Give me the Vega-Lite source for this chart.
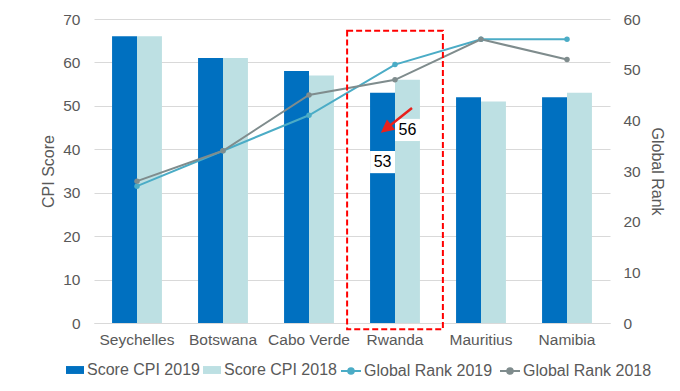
{
  "$schema": "https://vega.github.io/schema/vega-lite/v6.json",
  "width": 516,
  "height": 304,
  "autosize": {"type": "none"},
  "padding": {"left": 94, "top": 19, "right": 70, "bottom": 68},
  "config": {
    "view": {"stroke": null},
    "font": "Liberation Sans"
  },
  "datasets": {
    "bars": [
      {"country": "Seychelles", "series": "Score CPI 2019", "score": 66},
      {"country": "Seychelles", "series": "Score CPI 2018", "score": 66},
      {"country": "Botswana", "series": "Score CPI 2019", "score": 61},
      {"country": "Botswana", "series": "Score CPI 2018", "score": 61},
      {"country": "Cabo Verde", "series": "Score CPI 2019", "score": 58},
      {"country": "Cabo Verde", "series": "Score CPI 2018", "score": 57},
      {"country": "Rwanda", "series": "Score CPI 2019", "score": 53},
      {"country": "Rwanda", "series": "Score CPI 2018", "score": 56},
      {"country": "Mauritius", "series": "Score CPI 2019", "score": 52},
      {"country": "Mauritius", "series": "Score CPI 2018", "score": 51},
      {"country": "Namibia", "series": "Score CPI 2019", "score": 52},
      {"country": "Namibia", "series": "Score CPI 2018", "score": 53}
    ],
    "ranks": [
      {"country": "Seychelles", "series": "Global Rank 2019", "rank": 27},
      {"country": "Botswana", "series": "Global Rank 2019", "rank": 34},
      {"country": "Cabo Verde", "series": "Global Rank 2019", "rank": 41},
      {"country": "Rwanda", "series": "Global Rank 2019", "rank": 51},
      {"country": "Mauritius", "series": "Global Rank 2019", "rank": 56},
      {"country": "Namibia", "series": "Global Rank 2019", "rank": 56},
      {"country": "Seychelles", "series": "Global Rank 2018", "rank": 28},
      {"country": "Botswana", "series": "Global Rank 2018", "rank": 34},
      {"country": "Cabo Verde", "series": "Global Rank 2018", "rank": 45},
      {"country": "Rwanda", "series": "Global Rank 2018", "rank": 48},
      {"country": "Mauritius", "series": "Global Rank 2018", "rank": 56},
      {"country": "Namibia", "series": "Global Rank 2018", "rank": 52}
    ],
    "boxes": [
      {"country": "Rwanda", "series": "Score CPI 2019", "lo": 34.5, "hi": 39.6, "mid": 37.1, "label": "53"},
      {"country": "Rwanda", "series": "Score CPI 2018", "lo": 41.9, "hi": 47.0, "mid": 44.4, "label": "56"}
    ],
    "frame": [{"country": "Rwanda", "top": 67.3, "bottom": -1.45}],
    "arrow": [{"country": "Rwanda", "y": 46.86}]
  },
  "resolve": {"scale": {"y": "independent"}},
  "layer": [
    {
      "data": {"name": "bars"},
      "mark": {"type": "bar"},
      "encoding": {
        "x": {
          "field": "country", "type": "nominal",
          "sort": ["Seychelles", "Botswana", "Cabo Verde", "Rwanda", "Mauritius", "Namibia"],
          "scale": {"paddingInner": 0.42, "paddingOuter": 0.21},
          "axis": {"title": null, "labelAngle": 0, "labelFontSize": 15.5, "labelColor": "#595959", "ticks": false, "domainColor": "#D9D9D9", "labelPadding": 9, "grid": false}
        },
        "xOffset": {
          "field": "series", "type": "nominal",
          "sort": ["Score CPI 2019", "Score CPI 2018"],
          "scale": {"domain": ["Score CPI 2019", "Score CPI 2018"], "paddingInner": 0, "paddingOuter": 0}
        },
        "y": {
          "field": "score", "type": "quantitative",
          "scale": {"domain": [0, 70], "nice": false},
          "axis": {"orient": "left", "title": "CPI Score", "values": [0, 10, 20, 30, 40, 50, 60, 70], "grid": true, "gridColor": "#D9D9D9", "domain": false, "ticks": false, "labelPadding": 14, "labelFontSize": 15.5, "labelColor": "#595959", "titleFontSize": 16, "titleFontWeight": "normal", "titleColor": "#595959", "titlePadding": 6}
        },
        "color": {
          "field": "series", "type": "nominal",
          "scale": {
            "domain": ["Score CPI 2019", "Score CPI 2018"],
            "range": ["#0070C0", "#BDE0E3"]
          },
          "legend": {
            "title": null,
            "orient": "none",
            "direction": "horizontal",
            "legendX": -29,
            "legendY": 341,
            "labelFontSize": 16,
            "labelColor": "#595959",
            "symbolType": "M-1,-0.44L1,-0.44L1,0.44L-1,0.44Z",
            "symbolSize": 324,
            "symbolOpacity": 1,
            "labelOffset": 2,
            "columnPadding": 2
          }
        }
      }
    },
    {
      "data": {"name": "ranks"},
      "layer": [
        {
          "mark": {"type": "line", "strokeWidth": 2},
          "encoding": {
            "x": {"field": "country", "type": "nominal", "sort": ["Seychelles", "Botswana", "Cabo Verde", "Rwanda", "Mauritius", "Namibia"]},
            "y": {
              "field": "rank", "type": "quantitative",
              "scale": {"domain": [0, 60], "nice": false},
              "axis": {"orient": "right", "title": "Global Rank", "values": [0, 10, 20, 30, 40, 50, 60], "grid": false, "domain": false, "ticks": false, "labelPadding": 13, "labelFontSize": 15.5, "labelColor": "#595959", "titleFontSize": 16, "titleFontWeight": "normal", "titleColor": "#595959", "titlePadding": 8}
            },
            "stroke": {
              "field": "series", "type": "nominal",
              "scale": {"domain": ["Global Rank 2019", "Global Rank 2018"], "range": ["#4BACC6", "#7F8C8D"]},
              "legend": {
                "title": null,
                "orient": "none",
                "direction": "horizontal",
                "legendX": 246,
                "legendY": 341,
                "labelFontSize": 16,
                "labelColor": "#595959",
                "symbolType": "M-1,0L1,0M0.28,0A0.28,0.28,0,1,1,-0.28,0A0.28,0.28,0,1,1,0.28,0Z",
                "symbolSize": 400,
                "symbolStrokeWidth": 2,
                "labelOffset": 2,
                "columnPadding": 3
              }
            }
          }
        },
        {
          "mark": {"type": "point", "filled": true, "size": 30, "opacity": 1},
          "encoding": {
            "x": {"field": "country", "type": "nominal", "sort": ["Seychelles", "Botswana", "Cabo Verde", "Rwanda", "Mauritius", "Namibia"]},
            "y": {"field": "rank", "type": "quantitative"},
            "fill": {
              "field": "series", "type": "nominal",
              "scale": {"domain": ["Global Rank 2019", "Global Rank 2018"], "range": ["#4BACC6", "#7F8C8D"]},
              "legend": null
            }
          }
        }
      ]
    },
    {
      "layer": [
        {
          "data": {"name": "boxes"},
          "mark": {"type": "bar", "color": "white"},
          "encoding": {
            "x": {"field": "country", "type": "nominal", "sort": ["Seychelles", "Botswana", "Cabo Verde", "Rwanda", "Mauritius", "Namibia"]},
            "xOffset": {"field": "series", "type": "nominal", "sort": ["Score CPI 2019", "Score CPI 2018"]},
            "y": {"field": "lo", "type": "quantitative", "scale": {"domain": [0, 70], "nice": false}, "axis": null},
            "y2": {"field": "hi"}
          }
        },
        {
          "data": {"name": "boxes"},
          "mark": {"type": "text", "fontSize": 16, "color": "#000000", "baseline": "middle"},
          "encoding": {
            "x": {"field": "country", "type": "nominal", "sort": ["Seychelles", "Botswana", "Cabo Verde", "Rwanda", "Mauritius", "Namibia"]},
            "xOffset": {"field": "series", "type": "nominal", "sort": ["Score CPI 2019", "Score CPI 2018"]},
            "y": {"field": "mid", "type": "quantitative", "axis": null},
            "text": {"field": "label"}
          }
        },
        {
          "data": {"name": "frame"},
          "mark": {"type": "bar", "width": {"band": 1.92}, "fill": "transparent", "stroke": "#FF0000", "strokeWidth": 2, "strokeDash": [6, 3]},
          "encoding": {
            "x": {"field": "country", "type": "nominal", "sort": ["Seychelles", "Botswana", "Cabo Verde", "Rwanda", "Mauritius", "Namibia"]},
            "y": {"field": "top", "type": "quantitative", "axis": null},
            "y2": {"field": "bottom"}
          }
        },
        {
          "data": {"name": "arrow"},
          "mark": {"type": "point", "shape": "M0.967,-0.767L-0.497,0.395M-0.967,0.767L-0.311,0.630L-0.683,0.160Z", "size": 900, "filled": true, "fill": "#E8211C", "stroke": "#E8211C", "strokeWidth": 2.5, "opacity": 1},
          "encoding": {
            "x": {"field": "country", "type": "nominal", "bandPosition": 0.55, "sort": ["Seychelles", "Botswana", "Cabo Verde", "Rwanda", "Mauritius", "Namibia"]},
            "y": {"field": "y", "type": "quantitative", "axis": null}
          }
        }
      ]
    }
  ]
}
